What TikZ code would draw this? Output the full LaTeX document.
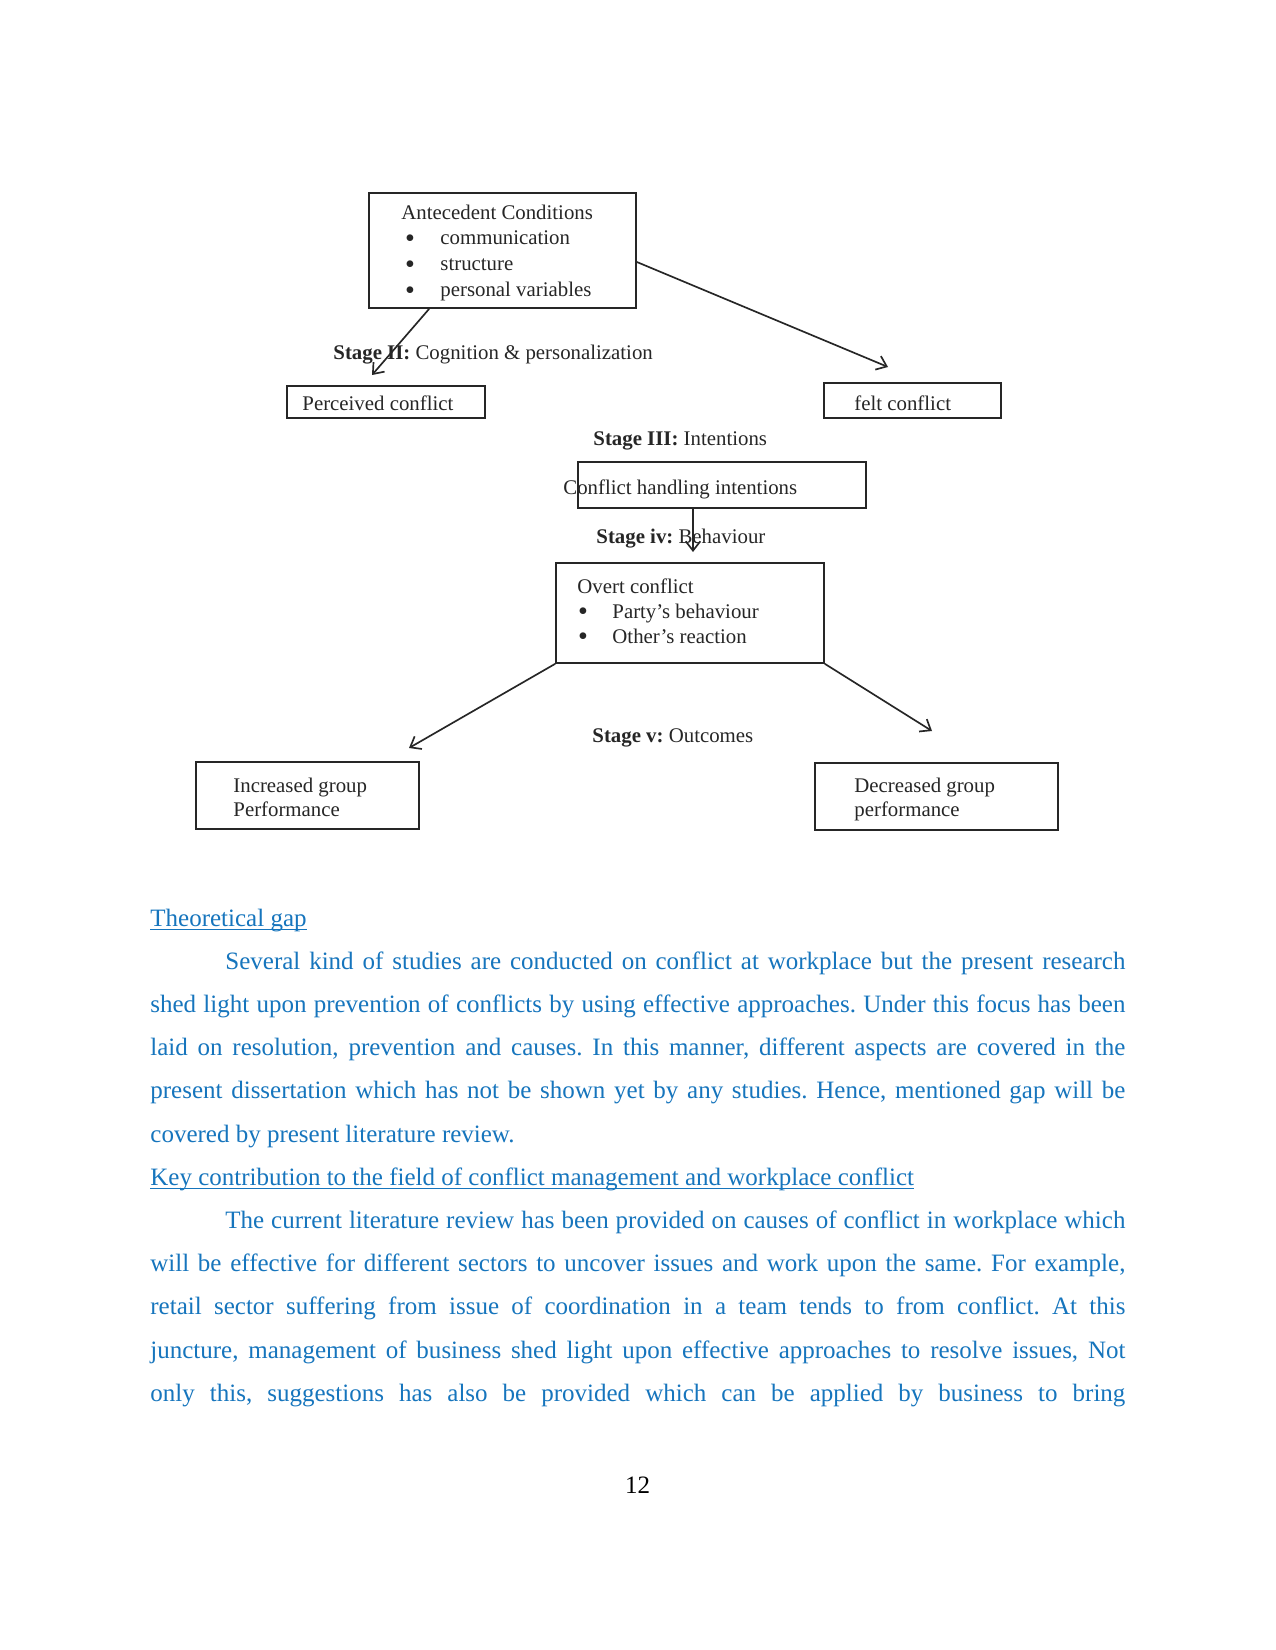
\documentclass[tikz,border=0pt]{standalone}
\usepackage{graphicx}
\usepackage{fontspec}
\setmainfont{Liberation Serif}
\frenchspacing
\usetikzlibrary{arrows.meta}
\definecolor{docblue}{RGB}{22,117,189}
\definecolor{figgray}{RGB}{38,38,38}
\newlength\pxu
\setlength\pxu{0.48pt}
\newcommand\bigbullet{\raisebox{-1.1pt}{\scalebox{1.35}{\textbullet}}}

\begin{document}
\begin{tikzpicture}[x=0.48pt, y=-0.48pt,
  box/.style={draw=figgray, line width=0.8pt, inner sep=0pt},
  lbl/.style={font=\fontsize{10}{12}\selectfont, text=figgray, inner sep=0pt, anchor=base west},
  dot/.style={font=\fontsize{10}{12}\selectfont, text=figgray, inner sep=0pt, anchor=base},
  arr/.style={-{Straight Barb[length=4.5pt,width=7pt]}, draw=figgray, line width=0.8pt},
  body/.style={font=\fontsize{12}{14}\selectfont, text=docblue, inner sep=0pt, anchor=base west}]
  \fill[white] (0,0) rectangle (1275,1650);
  \useasboundingbox (0,0) rectangle (1275,1650);
  %
  % Boxes
  \node[box, minimum width=267\pxu, minimum height=115\pxu] (ante) at (502.5,250.5) {};
  \node[box, minimum width=198\pxu, minimum height=32\pxu] (perc) at (386,402) {};
  \node[box, minimum width=177\pxu, minimum height=35\pxu] (felt) at (912.5,400.5) {};
  \node[box, minimum width=288\pxu, minimum height=46\pxu] (handl) at (722,485) {};
  \node[box, minimum width=268\pxu, minimum height=100\pxu] (overt) at (690,613) {};
  \node[box, minimum width=223\pxu, minimum height=67\pxu] (incr) at (307.5,795.5) {};
  \node[box, minimum width=243\pxu, minimum height=67\pxu] (decr) at (936.5,796.5) {};
  %
  % Box texts
  \node[lbl] (anteT) at (401,220) {Antecedent Conditions};
  \foreach \t/\yy [count=\i] in {communication/245,structure/271,personal variables/297} {
    \node[dot] (ab\i) at (410,\yy) {\bigbullet};
    \node[lbl] (ai\i) at (440,\yy) {\t};
  }
  \node[lbl] (percT) at (302,410) {Perceived conflict};
  \node[lbl] (feltT) at (854,410) {felt conflict};
  \node[lbl] (handlT) at (563,494) {Conflict handling intentions};
  \node[lbl] (overtT) at (577,593) {Overt conflict};
  \foreach \t/\yy [count=\i] in {Party’s behaviour/618,Other’s reaction/643} {
    \node[dot] (ob\i) at (583,\yy) {\bigbullet};
    \node[lbl] (oi\i) at (612,\yy) {\t};
  }
  \node[lbl] (incrA) at (233,792) {Increased group};
  \node[lbl] (incrB) at (233,816) {Performance};
  \node[lbl] (decrA) at (854,792) {Decreased group};
  \node[lbl] (decrB) at (854,816) {performance};
  %
  % Stage labels
  \node[lbl] (st2) at (333,360) {\textbf{Stage II:} Cognition \& personalization};
  \node[lbl] (st3) at (593,446) {\textbf{Stage III:} Intentions};
  \node[lbl] (st4) at (596,543) {\textbf{Stage iv:} Behaviour};
  \node[lbl] (st5) at (592,742) {\textbf{Stage v:} Outcomes};
  %
  % Arrows
  \coordinate (t1) at (372,375);
  \coordinate (t2) at (888,367);
  \coordinate (t3) at (693,552);
  \coordinate (t4) at (409,748);
  \coordinate (t5) at (932,731);
  \draw[arr] ([xshift=61\pxu]ante.south west) -- (t1);
  \draw[arr] ([yshift=-11.5\pxu]ante.east) -- (t2);
  \draw[arr] ([xshift=-29\pxu]handl.south) -- (t3);
  \draw[arr] (overt.south west) -- (t4);
  \draw[arr] (overt.south east) -- (t5);
  %
  % Page text
  \node[body] (hd1) at (150,926) {Theoretical gap};
  \draw[docblue, line width=0.6pt] ([yshift=-1.6pt]hd1.base west) -- ([yshift=-1.6pt]hd1.base east);
  \node[body] (p1a) at (225,969.2) {\makebox[900\pxu][s]{Several kind of studies are conducted on conflict at workplace but the present research}};
  \node[body] (p1b) at (150,1012.4) {\makebox[975\pxu][s]{shed light upon prevention of conflicts by using effective approaches. Under this focus has been}};
  \node[body] (p1c) at (150,1055.6) {\makebox[975\pxu][s]{laid on resolution, prevention and causes. In this manner, different aspects are covered in the}};
  \node[body] (p1d) at (150,1098.8) {\makebox[975\pxu][s]{present dissertation which has not be shown yet by any studies. Hence, mentioned gap will be}};
  \node[body] (p1e) at (150,1142) {covered by present literature review.};
  \node[body] (hd2) at (150,1185.2) {Key contribution to the field of conflict management and workplace conflict};
  \draw[docblue, line width=0.6pt] ([yshift=-1.6pt]hd2.base west) -- ([yshift=-1.6pt]hd2.base east);
  \node[body] (p2a) at (225,1228.4) {\makebox[900\pxu][s]{The current literature review has been provided on causes of conflict in workplace which}};
  \node[body] (p2b) at (150,1271.6) {\makebox[975\pxu][s]{will be effective for different sectors to uncover issues and work upon the same. For example,}};
  \node[body] (p2c) at (150,1314.8) {\makebox[975\pxu][s]{retail sector suffering from issue of coordination in a team tends to from conflict. At this}};
  \node[body] (p2d) at (150,1358) {\makebox[975\pxu][s]{juncture, management of business shed light upon effective approaches to resolve issues, Not}};
  \node[body] (p2e) at (150,1401.2) {\makebox[975\pxu][s]{only this, suggestions has also be provided which can be applied by business to bring}};
  \node[body, text=black, anchor=base] (pgno) at (637.5,1493) {12};
\end{tikzpicture}
\end{document}
